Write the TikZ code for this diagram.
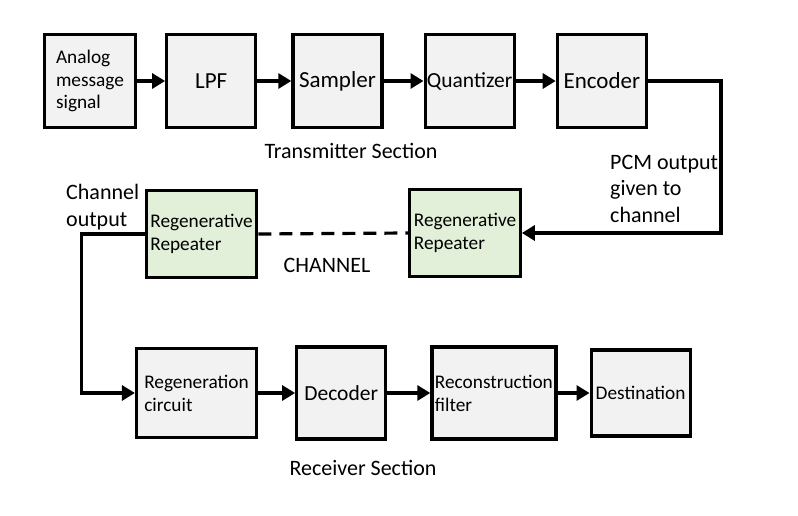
\documentclass[tikz,border=0pt]{standalone}
\usepackage{fontspec}
\setmainfont{Carlito}
\usetikzlibrary{positioning, arrows.meta}
\definecolor{boxgray}{RGB}{242,242,242}
\definecolor{repgreen}{RGB}{226,239,217}
\tikzstyle{block} = [rectangle, draw, line width=3.2pt, fill=boxgray, minimum width=89pt, minimum height=92.5pt, align=left, inner sep=1pt, font=\fontsize{23}{27}\selectfont]
\tikzstyle{smallblock} = [block, font=\fontsize{19.3}{22.8}\selectfont]
\tikzstyle{repeater} = [smallblock, fill=repgreen, minimum width=110.5pt, minimum height=86.5pt]
\tikzstyle{arrow} = [line width=3.2pt, -{Triangle[length=13pt,width=15pt]}]
\tikzstyle{link} = [line width=3.2pt, dash pattern=on 13pt off 8pt]
\tikzstyle{textlabel} = [font=\fontsize{22}{26.5}\selectfont, align=left, inner sep=0pt]

\begin{document}
\begin{tikzpicture}[x=1pt, y=1pt]
  \useasboundingbox (0,0) rectangle (798,-516);

  % Transmitter row
  \node (analog) [smallblock, minimum width=91pt] at (90,-81) {Analog\\message\\signal};
  \node (lpf) [block, right=28pt of analog] {LPF};
  \node (sampler) [block, right=34pt of lpf] {Sampler};
  \node (quantizer) [block, right=40pt of sampler, font=\fontsize{21.5}{25}\selectfont] {Quantizer};
  \node (encoder) [block, right=40pt of quantizer] {Encoder};

  % Channel with repeaters
  \node (rightrep) [repeater] at (465,-233) {Regenerative\\Repeater};
  \node (leftrep) [repeater] at (201.5,-234) {Regenerative\\Repeater};

  % Receiver row
  \node (regen) [smallblock, minimum width=120pt, minimum height=89pt] at (196.5,-393) {Regeneration\\circuit};
  \node (decoder) [block, right=37pt of regen, minimum height=92pt, font=\fontsize{21.5}{25}\selectfont] {Decoder};
  \node (recon) [smallblock, right=43pt of decoder, minimum width=124pt, minimum height=92pt] {Reconstruction\\filter};
  \node (dest) [smallblock, right=32pt of recon, minimum width=99pt, minimum height=86pt] {Destination};

  % Arrows (transmitter)
  \draw[arrow] (analog) -- (lpf);
  \draw[arrow] (lpf) -- (sampler);
  \draw[arrow] (sampler) -- (quantizer);
  \draw[arrow] (quantizer) -- (encoder);

  % PCM output to channel
  \draw[arrow] (encoder.east) -- ++(73,0) |- (rightrep.east);
  \draw[link] (leftrep.east) -- (rightrep.west);
  \draw[arrow] (leftrep.west) -- ++(-63,0) |- (regen.west);

  % Arrows (receiver)
  \draw[arrow] (regen) -- (decoder);
  \draw[arrow] (decoder) -- (recon);
  \draw[arrow] (recon) -- (dest);

  % Labels
  \node (txlabel) [textlabel, anchor=base] at (351,-159) {Transmitter Section};
  \node (pcmlabel) [textlabel, anchor=base west] at (610,-222) {PCM output\\given to\\channel};
  \node (outlabel) [textlabel, anchor=base west] at (66,-226) {Channel\\output};
  \node (chlabel) [textlabel, anchor=base] at (327,-272) {CHANNEL};
  \node (rxlabel) [textlabel, anchor=base] at (363,-475) {Receiver Section};

\end{tikzpicture}
\end{document}
